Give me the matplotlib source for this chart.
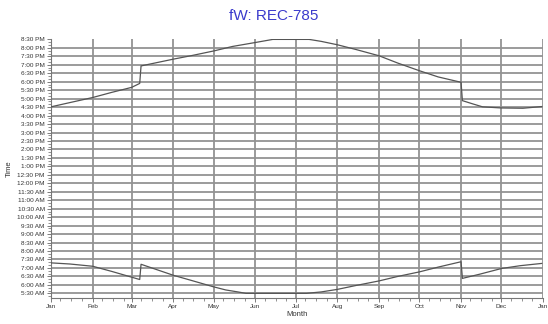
import datetime as dt
import matplotlib
matplotlib.use("Agg")
import matplotlib.pyplot as plt
import matplotlib.dates as mdates
from matplotlib.ticker import MultipleLocator, FuncFormatter

plt.rcParams['font.family'] = ['Liberation Sans', 'DejaVu Sans']

# Sunset times (upper curve)
sunset_dates = ["2012-01-01", "2012-01-15", "2012-02-01", "2012-02-15", "2012-03-01",
                "2012-03-07", "2012-03-08", "2012-04-01", "2012-04-15", "2012-05-01",
                "2012-05-15", "2012-06-01", "2012-06-14", "2012-07-01", "2012-07-11",
                "2012-07-20", "2012-08-01", "2012-08-15", "2012-09-01", "2012-09-15",
                "2012-10-01", "2012-10-15", "2012-11-01", "2012-11-02", "2012-11-10",
                "2012-11-17", "2012-12-01", "2012-12-17", "2012-12-31"]
sunset_times = ["16:31", "16:46", "17:04", "17:22", "17:40",
                "17:54", "18:56", "19:20", "19:33", "19:49",
                "20:05", "20:19", "20:30", "20:30", "20:30",
                "20:23", "20:11", "19:54", "19:32", "19:06",
                "18:39", "18:17", "17:58", "16:53", "16:41",
                "16:31", "16:27", "16:26", "16:32"]

# Sunrise times (lower curve)
sunrise_dates = ["2012-01-01", "2012-01-15", "2012-02-01", "2012-02-15", "2012-03-07",
                 "2012-03-08", "2012-04-01", "2012-04-15", "2012-05-01", "2012-05-10",
                 "2012-05-19", "2012-05-25", "2012-07-09", "2012-07-20", "2012-08-01",
                 "2012-08-15", "2012-09-01", "2012-09-15", "2012-10-01", "2012-10-15",
                 "2012-11-01", "2012-11-02", "2012-11-15", "2012-12-01", "2012-12-15",
                 "2012-12-31"]
sunrise_times = ["7:18", "7:14", "7:06", "6:48", "6:19",
                 "7:13", "6:34", "6:15", "5:53", "5:42",
                 "5:35", "5:30", "5:30", "5:35", "5:44",
                 "5:58", "6:14", "6:30", "6:46", "7:03",
                 "7:22", "6:23", "6:38", "6:58", "7:08",
                 "7:16"]

months = ["Jan", "Feb", "Mar", "Apr", "May", "Jun", "Jul", "Aug", "Sep", "Oct", "Nov", "Dec", "Jan"]


def to_hours(s):
    h, m = s.split(":")
    return int(h) + int(m) / 60


def fmt_time(v, pos):
    total = int(round(v * 60))
    h, m = divmod(total, 60)
    ampm = "AM" if h < 12 else "PM"
    h12 = h % 12
    if h12 == 0:
        h12 = 12
    return f"{h12}:{m:02d} {ampm}"


ss_x = [dt.datetime.strptime(d, "%Y-%m-%d") for d in sunset_dates]
ss_y = [to_hours(t) for t in sunset_times]
sr_x = [dt.datetime.strptime(d, "%Y-%m-%d") for d in sunrise_dates]
sr_y = [to_hours(t) for t in sunrise_times]

fig = plt.figure(figsize=(5.48, 3.24), dpi=100)
ax = fig.add_axes([0.093, 0.080, 0.898, 0.801])

grid_c = "#939393"
yticks = [5.5 + 0.5 * i for i in range(31)]
for y in yticks[:-1]:
    ax.axhline(y, color=grid_c, lw=1.3, zorder=1)
month_starts = [dt.datetime(2012 + i // 12, i % 12 + 1, 1) for i in range(13)]
for d in month_starts:
    ax.axvline(d, color=grid_c, lw=1.3, zorder=1)

ax.plot(ss_x, ss_y, color="#555555", lw=0.9, zorder=3)
ax.plot(sr_x, sr_y, color="#555555", lw=0.9, zorder=3)

ax.set_xlim(month_starts[0], month_starts[-1])
ax.set_ylim(5.22, 20.55)

ax.xaxis.set_minor_locator(mdates.DayLocator(bymonthday=[8, 16, 24]))
ax.set_xticks(month_starts)
ax.set_xticklabels(months)
ax.yaxis.set_minor_locator(MultipleLocator(1 / 6))
ax.yaxis.set_major_formatter(FuncFormatter(fmt_time))
ax.set_yticks(yticks)

ax.tick_params(axis="both", which="major", labelsize=4.6, length=3, width=0.6,
               color="#666666", labelcolor="#333333", pad=1.5)
ax.tick_params(axis="both", which="minor", length=2, width=0.5, color="#666666")

for side in ["top", "right"]:
    ax.spines[side].set_visible(False)
for side in ["left", "bottom"]:
    ax.spines[side].set_color("#777777")
    ax.spines[side].set_linewidth(0.8)

ax.set_xlabel("Month", fontsize=5.5, color="#333333", labelpad=1)
ax.set_ylabel("Time", fontsize=5.5, color="#333333", labelpad=3)
fig.text(0.5, 0.952, "fW: REC-785", ha="center", va="center", fontsize=11, color="#3a3acc")

fig.savefig("out.png", dpi=100)
